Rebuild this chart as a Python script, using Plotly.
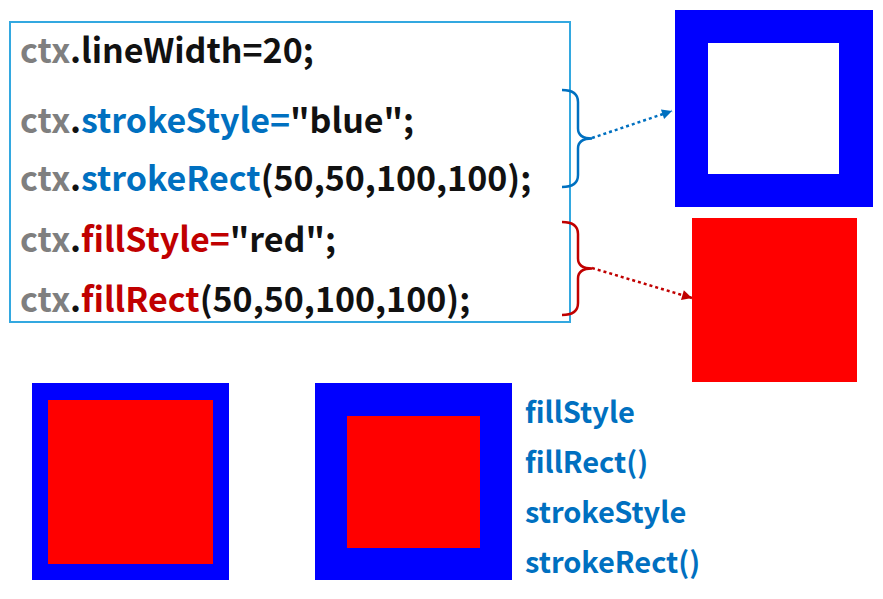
import plotly.graph_objects as go

GRAY = "#7f7f7f"
BLUE = "#0070C0"
RED = "#C00000"
BLK = "#111111"

# code lines: list of (text, colour) pieces
code_lines = [
    [("ctx", GRAY), (".", BLK), ("lineWidth=20;", BLK)],
    [("ctx", GRAY), (".", BLK), ("strokeStyle=", BLUE), ('"blue";', BLK)],
    [("ctx", GRAY), (".", BLK), ("strokeRect", BLUE), ("(50,50,100,100);", BLK)],
    [("ctx", GRAY), (".", BLK), ("fillStyle=", RED), ('"red";', BLK)],
    [("ctx", GRAY), (".", BLK), ("fillRect", RED), ("(50,50,100,100);", BLK)],
]
code_y = [48, 118, 176, 237, 297]

methods = ["fillStyle", "fillRect()", "strokeStyle", "strokeRect()"]
methods_y = [410, 460, 510, 560]

fig = go.Figure()

def rect(x0, y0, x1, y1, fill=None, line=None, width=0):
    fig.add_shape(type="rect", x0=x0, y0=y0, x1=x1, y1=y1,
                  fillcolor=fill if fill else "rgba(0,0,0,0)",
                  line=dict(color=line if line else "rgba(0,0,0,0)", width=width))

# code box
rect(10, 22, 570, 322, line="#33a8e0", width=2)

for pieces, y in zip(code_lines, code_y):
    txt = "".join(f"<span style='color:{c}'>{t}</span>" for t, c in pieces)
    fig.add_annotation(x=18, y=y, text=f"<b>{txt}</b>", showarrow=False,
                       xanchor="left", yanchor="middle",
                       font=dict(size=34, family="Noto Sans CJK KR"))

# braces
def brace(y0, y1, color):
    ym = (y0 + y1) / 2
    p = (f"M 562 {y0} Q 578 {y0} 578 {y0+12} L 578 {ym-10} Q 578 {ym} 592 {ym} "
         f"Q 578 {ym} 578 {ym+10} L 578 {y1-12} Q 578 {y1} 562 {y1}")
    fig.add_shape(type="path", path=p, line=dict(color=color, width=2.5))

brace(90, 187, BLUE)
brace(222, 315, RED)

# dotted arrows
def dotted_arrow(x0, y0, x1, y1, color):
    fig.add_shape(type="line", x0=x0, y0=y0, x1=x1, y1=y1,
                  line=dict(color=color, width=2.5, dash="dot"))
    dx, dy = x1 - x0, y1 - y0
    fig.add_annotation(x=x1, y=y1, ax=x1 - dx * 0.1, ay=y1 - dy * 0.1,
                       xref="x", yref="y", axref="x", ayref="y", showarrow=True,
                       arrowhead=2, arrowsize=1, arrowwidth=2, arrowcolor=color, text="")

dotted_arrow(592, 138, 672, 111, BLUE)
dotted_arrow(592, 268, 692, 298, RED)

# squares
rect(675, 10, 873, 207, fill="#0000ff")
rect(708, 43, 839, 174, fill="white")
rect(692, 218, 857, 382, fill="#ff0000")
rect(32, 383, 229, 580, fill="#0000ff")
rect(48, 400, 213, 564, fill="#ff0000")
rect(315, 383, 512, 580, fill="#0000ff")
rect(347, 416, 480, 548, fill="#ff0000")

for m, y in zip(methods, methods_y):
    fig.add_annotation(x=523, y=y, text=f"<b>{m}</b>", showarrow=False,
                       xanchor="left", yanchor="middle",
                       font=dict(size=29, family="Noto Sans CJK KR", color=BLUE))

# page is offset by ~8px body margin; shift view to compensate
fig.update_xaxes(range=[8, 891], visible=False, fixedrange=True)
fig.update_yaxes(range=[607, 8], visible=False, fixedrange=True)
fig.update_layout(width=883, height=599, margin=dict(l=0, r=0, t=0, b=0),
                  plot_bgcolor="white", paper_bgcolor="white", showlegend=False)
fig.write_html("out.html")
